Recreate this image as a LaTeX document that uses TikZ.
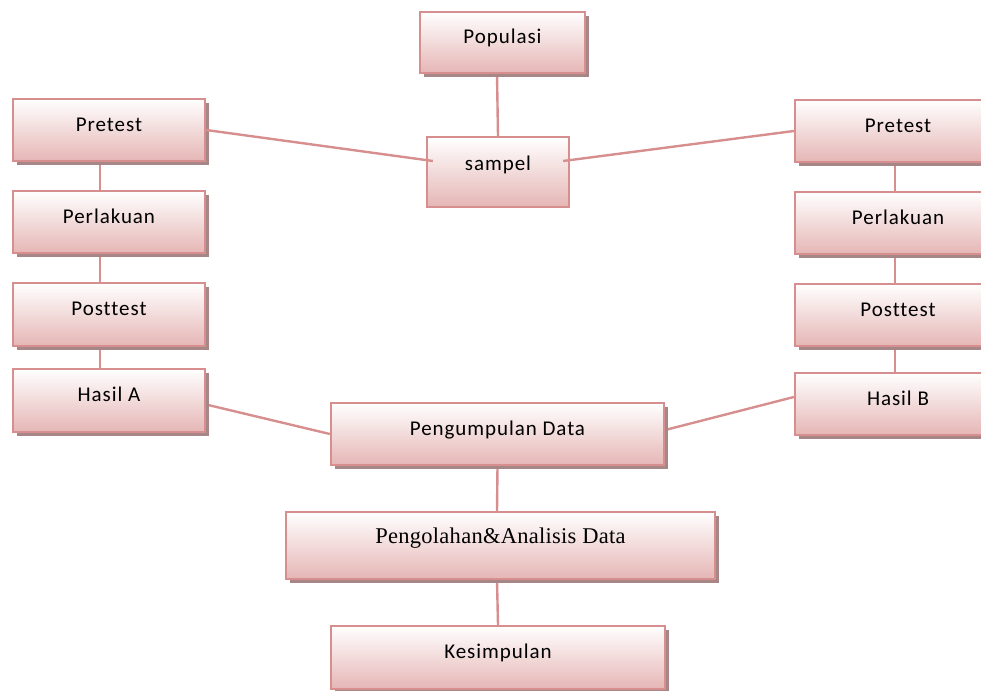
\documentclass[tikz,border=0pt]{standalone}
\usepackage{fontspec}
\setmainfont{Carlito}
\newfontfamily\boxf[LetterSpace=4.5,Ligatures=NoCommon]{Carlito}
\newfontfamily\timesf[LetterSpace=1.2]{Liberation Serif}
\usetikzlibrary{shadows,backgrounds}
\definecolor{bord}{RGB}{214,143,142}
\definecolor{pinkb}{RGB}{229,182,181}
\definecolor{shad}{RGB}{166,134,134}
\tikzset{
  plainbox/.style={draw=bord, line width=2.3pt, top color=white, bottom color=pinkb,
    minimum width=192pt, minimum height=62pt, inner sep=0pt,
    font=\boxf\fontsize{21}{21}\selectfont, text height=10pt, text depth=8pt},
  box/.style={plainbox, drop shadow={shadow xshift=4pt, shadow yshift=-4pt, fill=shad, opacity=1}},
  conn/.style={draw=bord, line width=2.4pt}
}
\begin{document}
\begin{tikzpicture}[x=1pt,y=-1pt]
\useasboundingbox (0,0) rectangle (981,690);
\clip (0,0) rectangle (981,690);
\node[box, minimum width=165pt, minimum height=61pt] (pop) at (502.5,42.5) {Populasi};
\node[plainbox, minimum width=142pt, minimum height=70pt, text height=8pt, text depth=11pt] (sam) at (498,172) {sampel};
\node[box, text height=11pt, text depth=7.5pt] (lpre) at (109,130) {Pretest};
\node[box] (lper) at (109,222) {Perlakuan};
\node[box, minimum height=63pt] (lpost) at (109,314.5) {Posttest};
\node[box, minimum height=63pt] (ha) at (109,400.5) {Hasil A};
\node[box, minimum width=206pt, text height=11pt, text depth=7.5pt] (rpre) at (898,131) {Pretest};
\node[box, minimum width=206pt] (rper) at (898,223) {Perlakuan};
\node[box, minimum width=206pt] (rpost) at (898,315) {Posttest};
\node[box, minimum width=206pt] (hb) at (898,404) {Hasil B};
\node[box, minimum width=333pt] (peng) at (497.5,434) {Pengumpulan Data};
\node[box, minimum width=429pt, minimum height=67pt, font=\timesf\fontsize{22.5}{22.5}\selectfont, text height=8pt, text depth=13pt] (olah) at (500.5,545.5) {Pengolahan\&Analisis Data};
\node[box, minimum width=334pt, minimum height=63pt] (kes) at (498,657.5) {Kesimpulan};
\coordinate (saml) at ([shift={(7pt,11pt)}]sam.west);
\coordinate (samr) at ([shift={(-7pt,11pt)}]sam.east);
\begin{scope}[on background layer]
\draw[conn] ([xshift=-5.5pt]pop.south) -- (sam.north);
\draw[conn] ([xshift=-9pt]lpre.south) -- ([xshift=-9pt]lper.north);
\draw[conn] ([xshift=-9pt]lper.south) -- ([xshift=-9pt]lpost.north);
\draw[conn] ([xshift=-9pt]lpost.south) -- ([xshift=-9pt]ha.north);
\draw[conn] ([xshift=-3pt]rpre.south) -- ([xshift=-3pt]rper.north);
\draw[conn] ([xshift=-3pt]rper.south) -- ([xshift=-3pt]rpost.north);
\draw[conn] ([xshift=-3pt]rpost.south) -- ([xshift=-3pt]hb.north);
\draw[conn] ([yshift=-4pt]ha.east) -- (peng.west);
\draw[conn] ([yshift=7pt]hb.west) -- ([yshift=4pt]peng.east);
\draw[conn] (peng.south) -- ([xshift=-3.5pt]olah.north);
\draw[conn] ([xshift=-3.5pt]olah.south) -- (kes.north);
\end{scope}
\draw[conn] (lpre.east) -- (saml);
\draw[conn] (samr) -- (rpre.west);
\end{tikzpicture}
\end{document}
